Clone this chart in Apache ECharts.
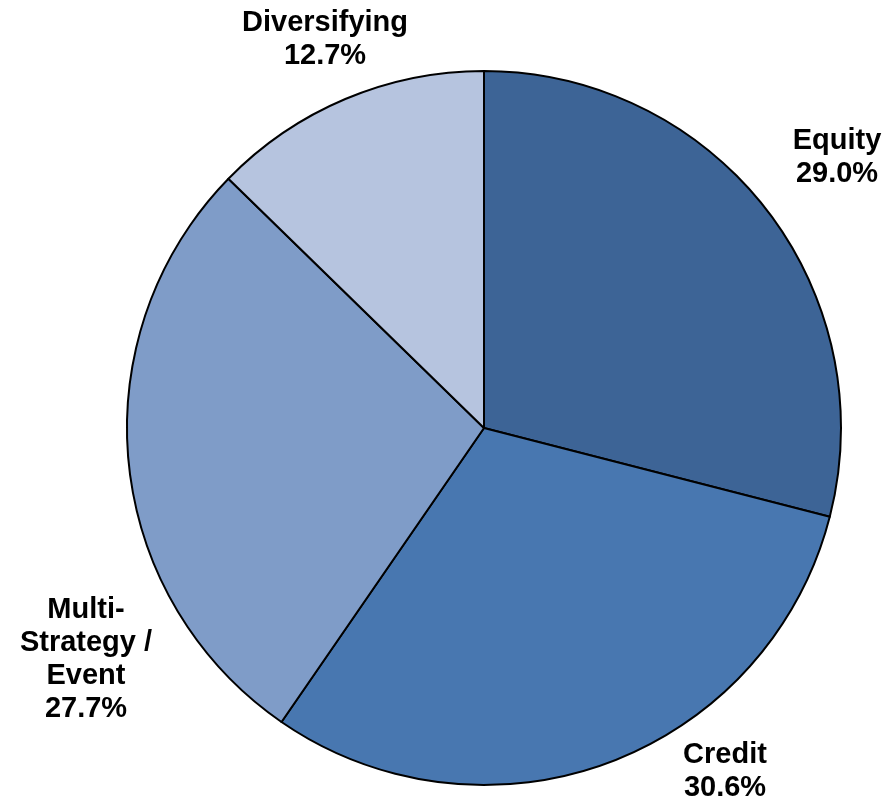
<!DOCTYPE html>
<html>
<head>
<meta charset="utf-8">
<script src="https://cdn.jsdelivr.net/npm/echarts@6/dist/echarts.min.js"></script>
<style>
  html, body { margin: 0; padding: 0; background: #fff; }
  #chart { width: 890px; height: 806px; }
</style>
</head>
<body>
<div id="chart"></div>
<script>
var names = ['Equity', 'Credit', 'Multi-\nStrategy /\nEvent', 'Diversifying'];
var shares = [29.0, 30.6, 27.7, 12.7];
var colors = ['#3D6496', '#4877B0', '#7F9CC8', '#B6C4DF'];

// label block centres (px), one per slice
var labelPos = [[837, 157], [725, 771], [86, 659], [325, 39]];

(function() {
    var chart = echarts.init(document.getElementById('chart'), null, { renderer: 'canvas' });

    var data = names.map(function(n, i) {
        return { name: n, value: shares[i], itemStyle: { color: colors[i] } };
    });

    chart.setOption({
        animation: false,
        series: [{
            type: 'pie',
            center: [484, 428],
            radius: 357,
            startAngle: 90,
            clockwise: true,
            itemStyle: { borderColor: '#000', borderWidth: 2 },
            emphasis: { disabled: true },
            label: {
                show: true,
                position: 'outside',
                overflow: 'none',
                formatter: function(p) { return p.name + '\n' + p.value.toFixed(1) + '%'; },
                fontFamily: 'Liberation Sans, Arial, sans-serif',
                fontWeight: 'bold',
                fontSize: 29,
                lineHeight: 33,
                color: '#000',
                align: 'center'
            },
            labelLine: { show: false },
            labelLayout: function(params) {
                var p = labelPos[params.dataIndex];
                return { x: p[0], y: p[1], align: 'center', verticalAlign: 'middle' };
            },
            data: data
        }]
    });
})();
</script>
</body>
</html>
